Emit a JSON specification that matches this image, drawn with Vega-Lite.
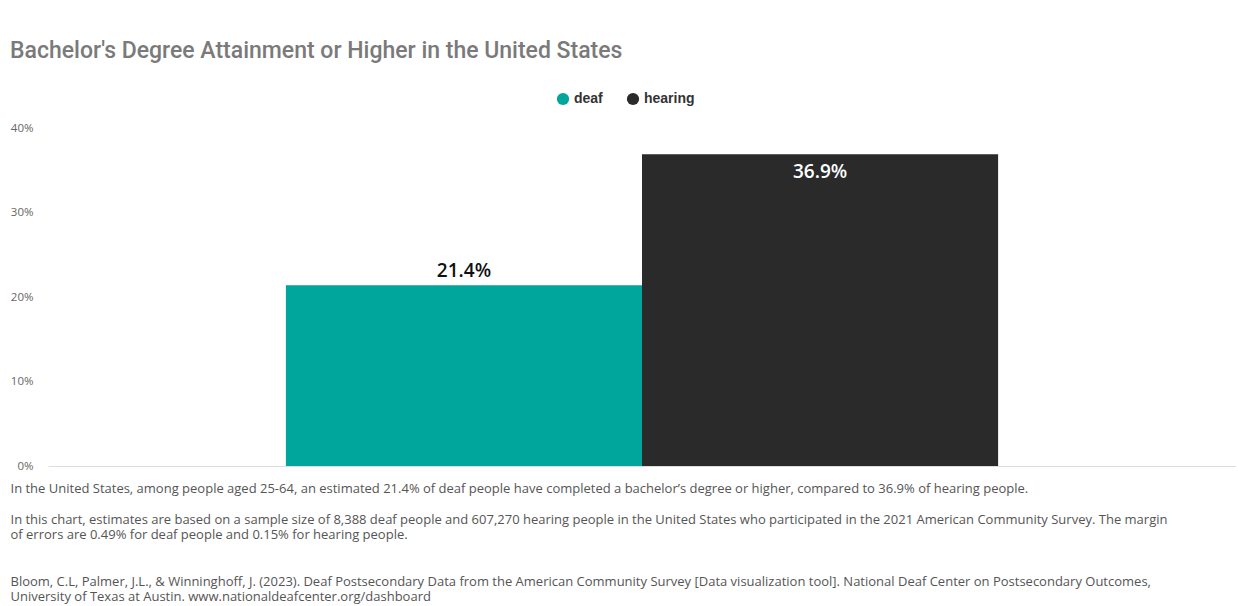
{
  "$schema": "https://vega.github.io/schema/vega-lite/v6.json",
  "width": 1188,
  "height": 338,
  "padding": {"left": 10, "top": 40, "right": 0, "bottom": 0},
  "background": "white",
  "title": {
    "text": "Bachelor's Degree Attainment or Higher in the United States",
    "anchor": "start",
    "frame": "bounds",
    "font": "Roboto",
    "fontSize": 23,
    "fontWeight": 500,
    "color": "#7a7a7a",
    "offset": 29
  },
  "data": {
    "values": [
      {"group": "deaf", "pct": 0.214},
      {"group": "hearing", "pct": 0.369}
    ]
  },
  "encoding": {
    "x": {
      "field": "group",
      "type": "nominal",
      "sort": ["deaf", "hearing"],
      "scale": {"paddingInner": 0, "paddingOuter": 0.668},
      "axis": {
        "labels": false,
        "ticks": false,
        "domain": true,
        "domainColor": "#dddddd",
        "domainWidth": 1,
        "title": [
          "In the United States, among people aged 25-64, an estimated 21.4% of deaf people have completed a bachelor’s degree or higher, compared to 36.9% of hearing people.",
          "\u200b",
          "In this chart, estimates are based on a sample size of 8,388 deaf people and 607,270 hearing people in the United States who participated in the 2021 American Community Survey. The margin",
          "of errors are 0.49% for deaf people and 0.15% for hearing people.",
          "\u200b",
          "\u200b",
          "Bloom, C.L, Palmer, J.L., & Winninghoff, J. (2023). Deaf Postsecondary Data from the American Community Survey [Data visualization tool]. National Deaf Center on Postsecondary Outcomes,",
          "University of Texas at Austin. www.nationaldeafcenter.org/dashboard"
        ],
        "titleFont": "Open Sans",
        "titleFontSize": 13,
        "titleFontWeight": "normal",
        "titleColor": "#555555",
        "titleLineHeight": 15.5,
        "titleAnchor": "start",
        "titleAlign": "left",
        "titleBaseline": "top",
        "titleX": -38,
        "titleY": 16
      }
    },
    "y": {
      "field": "pct",
      "type": "quantitative",
      "scale": {"domain": [0, 0.4]},
      "axis": {
        "title": null,
        "format": ".0%",
        "values": [0, 0.1, 0.2, 0.3, 0.4],
        "grid": false,
        "ticks": false,
        "domain": false,
        "labelFont": "Open Sans",
        "labelFontSize": 11.5,
        "labelColor": "#666666",
        "labelPadding": 15
      }
    }
  },
  "layer": [
    {
      "mark": {"type": "bar"},
      "encoding": {
        "color": {
          "field": "group",
          "type": "nominal",
          "scale": {"domain": ["deaf", "hearing"], "range": ["#00a59b", "#2a2a2b"]},
          "legend": {
            "title": null,
            "orient": "none",
            "direction": "horizontal",
            "legendX": 508,
            "legendY": -36,
            "symbolType": "circle",
            "symbolSize": 150,
            "symbolStrokeWidth": 0,
            "labelFont": "Liberation Sans",
            "labelFontSize": 14,
            "labelFontWeight": "bold",
            "labelColor": "#333333",
            "columnPadding": 23
          }
        }
      }
    },
    {
      "transform": [{"filter": "datum.group === 'deaf'"}],
      "mark": {"type": "text", "dy": -14, "font": "Open Sans", "fontSize": 19, "fontWeight": 600, "color": "#111111"},
      "encoding": {"text": {"field": "pct", "type": "quantitative", "format": ".1%"}}
    },
    {
      "transform": [{"filter": "datum.group === 'hearing'"}],
      "mark": {"type": "text", "dy": 18, "font": "Open Sans", "fontSize": 19, "fontWeight": 600, "color": "#ffffff"},
      "encoding": {"text": {"field": "pct", "type": "quantitative", "format": ".1%"}}
    }
  ],
  "config": {"view": {"stroke": null}}
}
